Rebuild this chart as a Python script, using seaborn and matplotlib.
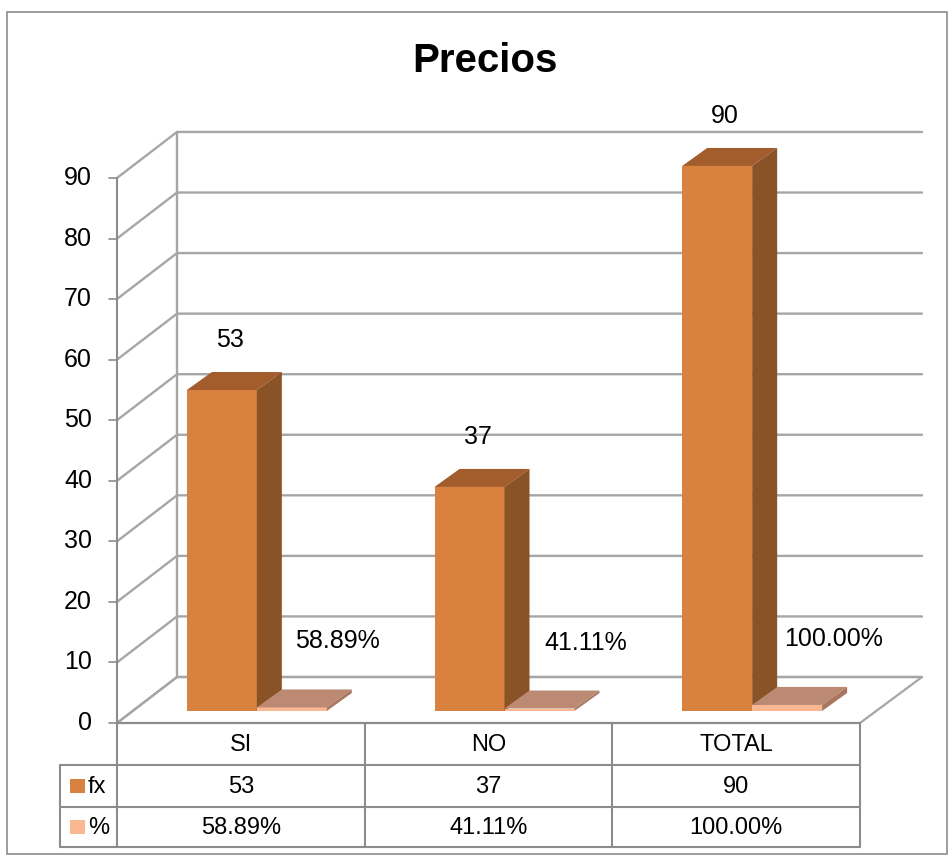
import matplotlib.pyplot as plt
import matplotlib.colors as mcolors
import seaborn as sns
import pandas as pd
from matplotlib.patches import Polygon, Rectangle

# datos
categorias = ['SI', 'NO', 'TOTAL']
fx = [53, 37, 90]
porcentaje = [0.5889, 0.4111, 1.0]
etiquetas_fx = ['53', '37', '90']
etiquetas_pct = ['58.89%', '41.11%', '100.00%']
series = ['fx', '%']
yticks = list(range(0, 100, 10))
titulo = 'Precios'

FX_FRONT, FX_TOP, FX_SIDE = '#D9823F', '#A35C2B', '#8A5227'
PCT_FRONT, PCT_TOP, PCT_SIDE = '#F9B792', '#BC8A72', '#A9765F'
GRID = '#A6A6A6'
LINE = '#8C8C8C'

FONT = ['Liberation Sans', 'DejaVu Sans']

df = pd.DataFrame({
    'categoria': categorias * 2,
    'valor': fx + porcentaje,
    'serie': [series[0]] * len(fx) + [series[1]] * len(porcentaje),
})

sns.set_style('white')
plt.rcParams['font.family'] = FONT
plt.rcParams['text.color'] = 'black'

W, H = 952, 856
fig = plt.figure(figsize=(W / 100, H / 100), dpi=100)

# fondo en coordenadas de pixel para paredes, tabla y textos
bg = fig.add_axes([0, 0, 1, 1], zorder=0)
bg.set_xlim(0, W)
bg.set_ylim(H, 0)
bg.axis('off')

# plano de las barras
ax = fig.add_axes([133 / W, (H - 711) / H, 743 / W, 600 / H], zorder=1)
sns.barplot(data=df, x='categoria', y='valor', hue='serie',
            palette=[FX_FRONT, PCT_FRONT], width=0.565, saturation=1,
            errorbar=None, legend=False, linewidth=0, ax=ax)
ax.set_xlim(-0.5, len(categorias) - 0.5)
ax.set_ylim(0, 600 / 6.056)
ax.axis('off')


def px(x, y):
    d = ax.transData.transform((x, y))
    return d[0], H - d[1]


sx = px(1, 0)[0] - px(0, 0)[0]
sy = px(0, 0)[1] - px(0, 1)[1]
xl, xr = ax.get_xlim()

# desplazamientos de profundidad (pixeles)
FRONT = (-16, 12)
BACK = (44, -34)
BAR_D = (25, -18)

# suelo
fl = px(xl, 0)
fr = px(xr, 0)
floor = [(fl[0] + FRONT[0], fl[1] + FRONT[1]), (fr[0] + FRONT[0], fr[1] + FRONT[1]),
         (fr[0] + BACK[0] + 2, fr[1] + BACK[1]), (fl[0] + BACK[0], fl[1] + BACK[1])]
bg.add_patch(Polygon(floor, closed=True, fc='white', ec=GRID, lw=1.6, zorder=1))

# lineas de cuadricula (pared lateral y pared del fondo)
for v in yticks:
    a = px(xl, v)
    b = px(xr, v)
    p_front = (a[0] + FRONT[0], a[1] + FRONT[1])
    p_back = (a[0] + BACK[0], a[1] + BACK[1])
    p_right = (b[0] + BACK[0] + 2, b[1] + BACK[1])
    bg.plot([p_front[0], p_back[0], p_right[0]], [p_front[1], p_back[1], p_right[1]],
            color=GRID, lw=1.7, solid_joinstyle='miter', zorder=2)
    bg.plot([p_front[0] - 8, p_front[0]], [p_front[1], p_front[1]], color=LINE, lw=1.2, zorder=3)
    bg.text(p_front[0] - 25, p_front[1], str(v), ha='right', va='center', fontsize=18)

# borde de la pared del fondo
a0, a9 = px(xl, 0), px(xl, yticks[-1])
bg.plot([a0[0] + BACK[0]] * 2, [a0[1] + BACK[1], a9[1] + BACK[1]], color=GRID, lw=1.7, zorder=2)

# caras 3D de las barras
ddx = BAR_D[0] / sx
ddy = -BAR_D[1] / sy
for p in list(ax.patches):
    x0, w, h = p.get_x(), p.get_width(), p.get_height()
    es_fx = mcolors.to_hex(p.get_facecolor()).lower() == FX_FRONT.lower()
    top_c = FX_TOP if es_fx else PCT_TOP
    side_c = FX_SIDE if es_fx else PCT_SIDE
    z = 2 if es_fx else 3
    p.set_zorder(z)
    ax.add_patch(Polygon([(x0, h), (x0 + w, h), (x0 + w + ddx, h + ddy), (x0 + ddx, h + ddy)],
                         closed=True, fc=top_c, ec='none', zorder=z, clip_on=False))
    ax.add_patch(Polygon([(x0 + w, 0), (x0 + w + ddx, ddy), (x0 + w + ddx, h + ddy), (x0 + w, h)],
                         closed=True, fc=side_c, ec='none', zorder=z, clip_on=False))

# etiquetas de datos
w_bar = 0.565 / 2
for i, (v, lab) in enumerate(zip(fx, etiquetas_fx)):
    cx, cy = px(i - w_bar / 2, v)
    bg.text(cx + 8, cy - 50, lab, ha='center', va='center', fontsize=18)
for i, (v, lab) in enumerate(zip(porcentaje, etiquetas_pct)):
    cx, cy = px(i + w_bar / 2, v)
    bg.text(cx + 46, cy - 66, lab, ha='center', va='center', fontsize=18)

# tabla de datos
top_y = fl[1] + FRONT[1]
left_x = fl[0] + FRONT[0]
right_x = fr[0] + FRONT[0]
row_h = [42, 42, 40]
r1 = top_y + row_h[0]
r2 = r1 + row_h[1]
r3 = r2 + row_h[2]
key_x = 60
bg.plot([left_x, right_x], [top_y, top_y], color=LINE, lw=1.5, zorder=3)
for yy in (r1, r2, r3):
    bg.plot([key_x, right_x], [yy, yy], color=LINE, lw=1.5, zorder=3)
bg.plot([left_x, left_x], [a9[1] + FRONT[1], r3], color=LINE, lw=1.5, zorder=3)
bg.plot([key_x, key_x], [r1, r3], color=LINE, lw=1.5, zorder=3)
col_w = (right_x - left_x) / len(categorias)
for k in range(1, len(categorias) + 1):
    xx = left_x + k * col_w
    bg.plot([xx, xx], [top_y, r3], color=LINE, lw=1.5, zorder=3)
for i, cat in enumerate(categorias):
    cx = left_x + (i + 0.5) * col_w
    bg.text(cx, (top_y + r1) / 2 + 1, cat, ha='center', va='center', fontsize=17)
    bg.text(cx, (r1 + r2) / 2 + 1, etiquetas_fx[i], ha='center', va='center', fontsize=17)
    bg.text(cx, (r2 + r3) / 2 + 1, etiquetas_pct[i], ha='center', va='center', fontsize=17)
for (y_a, y_b), nombre, col in zip([(r1, r2), (r2, r3)], series, [FX_FRONT, PCT_FRONT]):
    ym = (y_a + y_b) / 2
    bg.add_patch(Rectangle((70, ym - 7), 15, 14, fc=col, ec='none', zorder=3))
    bg.text(88, ym + 1, nombre, ha='left', va='center', fontsize=17)

# titulo y borde exterior
bg.text(485, 61, titulo, ha='center', va='center', fontsize=29, fontweight='bold')
bg.add_patch(Rectangle((7, 12), 940, 842, fc='none', ec=LINE, lw=1.2, zorder=4))

fig.savefig('out.png', dpi=100)
